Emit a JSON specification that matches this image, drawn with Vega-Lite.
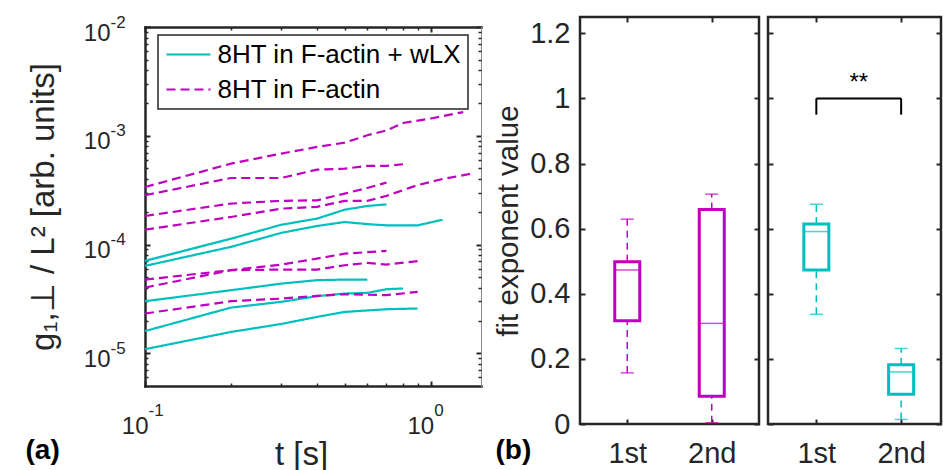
{
  "$schema": "https://vega.github.io/schema/vega-lite/v6.json",
  "background": "white",
  "padding": {"left": 25, "top": 13, "right": 0, "bottom": 0},
  "datasets": {
    "curves": [
      {"id": "C1", "sample": "8HT in F-actin + wLX", "t": 0.1, "g": 7.07e-5},
      {"id": "C1", "sample": "8HT in F-actin + wLX", "t": 0.2, "g": 1.13e-4},
      {"id": "C1", "sample": "8HT in F-actin + wLX", "t": 0.3, "g": 1.52e-4},
      {"id": "C1", "sample": "8HT in F-actin + wLX", "t": 0.4, "g": 1.73e-4},
      {"id": "C1", "sample": "8HT in F-actin + wLX", "t": 0.5, "g": 2.09e-4},
      {"id": "C1", "sample": "8HT in F-actin + wLX", "t": 0.6, "g": 2.26e-4},
      {"id": "C1", "sample": "8HT in F-actin + wLX", "t": 0.7, "g": 2.34e-4},
      {"id": "C2", "sample": "8HT in F-actin + wLX", "t": 0.1, "g": 6.36e-5},
      {"id": "C2", "sample": "8HT in F-actin + wLX", "t": 0.2, "g": 9.51e-5},
      {"id": "C2", "sample": "8HT in F-actin + wLX", "t": 0.3, "g": 1.28e-4},
      {"id": "C2", "sample": "8HT in F-actin + wLX", "t": 0.4, "g": 1.48e-4},
      {"id": "C2", "sample": "8HT in F-actin + wLX", "t": 0.5, "g": 1.61e-4},
      {"id": "C2", "sample": "8HT in F-actin + wLX", "t": 0.6, "g": 1.54e-4},
      {"id": "C2", "sample": "8HT in F-actin + wLX", "t": 0.7, "g": 1.50e-4},
      {"id": "C2", "sample": "8HT in F-actin + wLX", "t": 0.9, "g": 1.50e-4},
      {"id": "C2", "sample": "8HT in F-actin + wLX", "t": 1.1, "g": 1.69e-4},
      {"id": "C3", "sample": "8HT in F-actin + wLX", "t": 0.1, "g": 3.01e-5},
      {"id": "C3", "sample": "8HT in F-actin + wLX", "t": 0.2, "g": 3.80e-5},
      {"id": "C3", "sample": "8HT in F-actin + wLX", "t": 0.3, "g": 4.37e-5},
      {"id": "C3", "sample": "8HT in F-actin + wLX", "t": 0.4, "g": 4.70e-5},
      {"id": "C3", "sample": "8HT in F-actin + wLX", "t": 0.5, "g": 4.76e-5},
      {"id": "C3", "sample": "8HT in F-actin + wLX", "t": 0.6, "g": 4.76e-5},
      {"id": "C4", "sample": "8HT in F-actin + wLX", "t": 0.1, "g": 1.60e-5},
      {"id": "C4", "sample": "8HT in F-actin + wLX", "t": 0.2, "g": 2.63e-5},
      {"id": "C4", "sample": "8HT in F-actin + wLX", "t": 0.3, "g": 2.97e-5},
      {"id": "C4", "sample": "8HT in F-actin + wLX", "t": 0.4, "g": 3.35e-5},
      {"id": "C4", "sample": "8HT in F-actin + wLX", "t": 0.5, "g": 3.54e-5},
      {"id": "C4", "sample": "8HT in F-actin + wLX", "t": 0.6, "g": 3.59e-5},
      {"id": "C4", "sample": "8HT in F-actin + wLX", "t": 0.7, "g": 3.88e-5},
      {"id": "C4", "sample": "8HT in F-actin + wLX", "t": 0.8, "g": 3.94e-5},
      {"id": "C5", "sample": "8HT in F-actin + wLX", "t": 0.1, "g": 1.09e-5},
      {"id": "C5", "sample": "8HT in F-actin + wLX", "t": 0.2, "g": 1.57e-5},
      {"id": "C5", "sample": "8HT in F-actin + wLX", "t": 0.3, "g": 1.86e-5},
      {"id": "C5", "sample": "8HT in F-actin + wLX", "t": 0.4, "g": 2.16e-5},
      {"id": "C5", "sample": "8HT in F-actin + wLX", "t": 0.5, "g": 2.40e-5},
      {"id": "C5", "sample": "8HT in F-actin + wLX", "t": 0.7, "g": 2.54e-5},
      {"id": "C5", "sample": "8HT in F-actin + wLX", "t": 0.9, "g": 2.58e-5},
      {"id": "D1", "sample": "8HT in F-actin", "t": 0.1, "g": 3.38e-4},
      {"id": "D1", "sample": "8HT in F-actin", "t": 0.2, "g": 5.54e-4},
      {"id": "D1", "sample": "8HT in F-actin", "t": 0.3, "g": 6.85e-4},
      {"id": "D1", "sample": "8HT in F-actin", "t": 0.4, "g": 7.89e-4},
      {"id": "D1", "sample": "8HT in F-actin", "t": 0.5, "g": 8.64e-4},
      {"id": "D1", "sample": "8HT in F-actin", "t": 0.6, "g": 1.01e-3},
      {"id": "D1", "sample": "8HT in F-actin", "t": 0.7, "g": 1.12e-3},
      {"id": "D1", "sample": "8HT in F-actin", "t": 0.8, "g": 1.31e-3},
      {"id": "D1", "sample": "8HT in F-actin", "t": 1.0, "g": 1.44e-3},
      {"id": "D1", "sample": "8HT in F-actin", "t": 1.3, "g": 1.65e-3},
      {"id": "D2", "sample": "8HT in F-actin", "t": 0.1, "g": 2.84e-4},
      {"id": "D2", "sample": "8HT in F-actin", "t": 0.2, "g": 4.09e-4},
      {"id": "D2", "sample": "8HT in F-actin", "t": 0.3, "g": 4.09e-4},
      {"id": "D2", "sample": "8HT in F-actin", "t": 0.4, "g": 4.88e-4},
      {"id": "D2", "sample": "8HT in F-actin", "t": 0.5, "g": 4.98e-4},
      {"id": "D2", "sample": "8HT in F-actin", "t": 0.6, "g": 5.28e-4},
      {"id": "D2", "sample": "8HT in F-actin", "t": 0.7, "g": 5.28e-4},
      {"id": "D2", "sample": "8HT in F-actin", "t": 0.8, "g": 5.47e-4},
      {"id": "D3", "sample": "8HT in F-actin", "t": 0.1, "g": 1.83e-4},
      {"id": "D3", "sample": "8HT in F-actin", "t": 0.2, "g": 2.38e-4},
      {"id": "D3", "sample": "8HT in F-actin", "t": 0.3, "g": 2.52e-4},
      {"id": "D3", "sample": "8HT in F-actin", "t": 0.4, "g": 2.55e-4},
      {"id": "D3", "sample": "8HT in F-actin", "t": 0.5, "g": 2.94e-4},
      {"id": "D3", "sample": "8HT in F-actin", "t": 0.6, "g": 3.31e-4},
      {"id": "D3", "sample": "8HT in F-actin", "t": 0.7, "g": 3.71e-4},
      {"id": "D4", "sample": "8HT in F-actin", "t": 0.1, "g": 1.37e-4},
      {"id": "D4", "sample": "8HT in F-actin", "t": 0.2, "g": 1.79e-4},
      {"id": "D4", "sample": "8HT in F-actin", "t": 0.3, "g": 2.14e-4},
      {"id": "D4", "sample": "8HT in F-actin", "t": 0.4, "g": 2.22e-4},
      {"id": "D4", "sample": "8HT in F-actin", "t": 0.5, "g": 2.52e-4},
      {"id": "D4", "sample": "8HT in F-actin", "t": 0.6, "g": 2.52e-4},
      {"id": "D4", "sample": "8HT in F-actin", "t": 0.7, "g": 2.80e-4},
      {"id": "D4", "sample": "8HT in F-actin", "t": 0.9, "g": 3.52e-4},
      {"id": "D4", "sample": "8HT in F-actin", "t": 1.1, "g": 4.0e-4},
      {"id": "D4", "sample": "8HT in F-actin", "t": 1.4, "g": 4.5e-4},
      {"id": "D5", "sample": "8HT in F-actin", "t": 0.1, "g": 4.76e-5},
      {"id": "D5", "sample": "8HT in F-actin", "t": 0.2, "g": 5.81e-5},
      {"id": "D5", "sample": "8HT in F-actin", "t": 0.3, "g": 6.54e-5},
      {"id": "D5", "sample": "8HT in F-actin", "t": 0.4, "g": 7.42e-5},
      {"id": "D5", "sample": "8HT in F-actin", "t": 0.5, "g": 8.24e-5},
      {"id": "D5", "sample": "8HT in F-actin", "t": 0.7, "g": 8.73e-5},
      {"id": "D6", "sample": "8HT in F-actin", "t": 0.1, "g": 4.02e-5},
      {"id": "D6", "sample": "8HT in F-actin", "t": 0.2, "g": 5.81e-5},
      {"id": "D6", "sample": "8HT in F-actin", "t": 0.3, "g": 5.88e-5},
      {"id": "D6", "sample": "8HT in F-actin", "t": 0.4, "g": 5.88e-5},
      {"id": "D6", "sample": "8HT in F-actin", "t": 0.5, "g": 6.45e-5},
      {"id": "D6", "sample": "8HT in F-actin", "t": 0.6, "g": 6.77e-5},
      {"id": "D6", "sample": "8HT in F-actin", "t": 0.7, "g": 6.54e-5},
      {"id": "D6", "sample": "8HT in F-actin", "t": 0.9, "g": 7.03e-5},
      {"id": "D7", "sample": "8HT in F-actin", "t": 0.1, "g": 2.32e-5},
      {"id": "D7", "sample": "8HT in F-actin", "t": 0.2, "g": 3.01e-5},
      {"id": "D7", "sample": "8HT in F-actin", "t": 0.3, "g": 3.18e-5},
      {"id": "D7", "sample": "8HT in F-actin", "t": 0.4, "g": 3.37e-5},
      {"id": "D7", "sample": "8HT in F-actin", "t": 0.5, "g": 3.49e-5},
      {"id": "D7", "sample": "8HT in F-actin", "t": 0.7, "g": 3.42e-5},
      {"id": "D7", "sample": "8HT in F-actin", "t": 0.9, "g": 3.67e-5}
    ],
    "actin": [
      {"fit": "1st", "pos": 1, "lo": 0.157, "q1": 0.317, "med": 0.473, "q3": 0.498, "hi": 0.629},
      {"fit": "2nd", "pos": 2, "lo": 0.004, "q1": 0.085, "med": 0.309, "q3": 0.659, "hi": 0.706}
    ],
    "actin_wlx": [
      {"fit": "1st", "pos": 1, "lo": 0.337, "q1": 0.473, "med": 0.591, "q3": 0.614, "hi": 0.675},
      {"fit": "2nd", "pos": 2, "lo": 0.014, "q1": 0.091, "med": 0.160, "q3": 0.182, "hi": 0.232}
    ],
    "bracket": [
      {"x": 1, "x2": 2, "y": 1.0, "y2": 1.0},
      {"x": 1, "x2": 1, "y": 0.95, "y2": 1.0},
      {"x": 2, "x2": 2, "y": 0.95, "y2": 1.0}
    ],
    "stars": [
      {"x": 1.5, "y": 1.025, "label": "**"}
    ]
  },
  "bounds": "flush",
  "spacing": 9,
  "hconcat": [
    {
      "width": 336,
      "height": 369,
      "data": {"name": "curves"},
      "resolve": {"axis": {"x": "independent", "y": "independent"}},
      "layer": [
        {
          "mark": {"type": "line", "strokeWidth": 2.2},
          "encoding": {
            "x": {
              "field": "t", "type": "quantitative",
              "scale": {"type": "log", "domain": [0.1, 1.5], "nice": false},
              "axis": {
                "orient": "bottom", "values": [0.1, 1], "labelExpr": "'10'",
                "ticks": false, "tickSize": 0, "domain": false,
                "labelFontSize": 24, "labelAlign": "right", "labelOffset": 3,
                "labelBaseline": "alphabetic", "labelPadding": 47,
                "labelFlush": false, "labelOverlap": false,
                "title": "t [s]", "titleFontSize": 33, "titleX": 156, "titleY": 78,
                "titleAlign": "center", "titleBaseline": "alphabetic", "titleAngle": 0
              }
            },
            "y": {
              "field": "g", "type": "quantitative",
              "scale": {"type": "log", "domain": [5e-6, 0.01], "nice": false, "range": [369, 10]},
              "axis": {
                "orient": "left", "values": [1e-5, 1e-4, 1e-3, 1e-2], "labelExpr": "'10'",
                "ticks": false, "tickSize": 0, "domain": false,
                "labelFontSize": 24, "labelAlign": "right", "labelBaseline": "middle",
                "labelPadding": 35, "labelOffset": 6,
                "labelFlush": false, "labelOverlap": false,
                "title": "g₁,⊥ / L² [arb. units]", "titleFontSize": 33,
                "titleX": -92, "titleY": 189.5, "titleAngle": -90,
                "titleAlign": "center", "titleBaseline": "alphabetic"
              }
            },
            "color": {
              "field": "sample", "type": "nominal",
              "scale": {"domain": ["8HT in F-actin + wLX", "8HT in F-actin"], "range": ["#00BFBF", "#BF00BF"]},
              "legend": {
                "orient": "none", "legendX": 13, "legendY": 18, "title": null,
                "symbolType": "M-1,0H3", "symbolSize": 484, "symbolStrokeWidth": 2.2,
                "labelFontSize": 26, "labelFont": "Liberation Sans", "labelColor": "black",
                "labelOffset": 27, "labelLimit": 400, "rowPadding": 9, "padding": 6.5,
                "fillColor": "white", "strokeColor": "#262626"
              }
            },
            "strokeDash": {
              "field": "sample", "type": "nominal",
              "scale": {"domain": ["8HT in F-actin + wLX", "8HT in F-actin"], "range": [[1, 0], [9, 5]]},
              "legend": {
                "orient": "none", "legendX": 13, "legendY": 18, "title": null,
                "symbolType": "M-1,0H3", "symbolSize": 484, "symbolStrokeWidth": 2.2,
                "labelFontSize": 26, "labelFont": "Liberation Sans", "labelColor": "black",
                "labelOffset": 27, "labelLimit": 400, "rowPadding": 9, "padding": 6.5,
                "fillColor": "white", "strokeColor": "#262626"
              }
            },
            "detail": {"field": "id"},
            "order": {"field": "t", "type": "quantitative"}
          }
        },
        {
          "mark": {"type": "point", "opacity": 0},
          "encoding": {
            "x": {
              "field": "t", "type": "quantitative",
              "scale": {"type": "log", "domain": [0.1, 1.5], "nice": false},
              "axis": {
                "orient": "bottom", "values": [0.1, 1],
                "labelExpr": "round(log(datum.value) / LN10)",
                "ticks": false, "tickSize": 0, "domain": false,
                "labelFontSize": 17, "labelAlign": "left", "labelOffset": 3,
                "labelBaseline": "alphabetic", "labelPadding": 29,
                "labelFlush": false, "labelOverlap": false,
                "title": "(a)", "titleFontSize": 28, "titleFontWeight": "bold", "titleColor": "black",
                "titleX": -120, "titleY": 72, "titleAlign": "left", "titleBaseline": "alphabetic", "titleAngle": 0
              }
            },
            "y": {
              "field": "g", "type": "quantitative",
              "scale": {"type": "log", "domain": [5e-6, 0.01], "nice": false, "range": [369, 10]},
              "axis": {
                "orient": "left", "values": [1e-5, 1e-4, 1e-3, 1e-2],
                "labelExpr": "round(log(datum.value) / LN10)",
                "ticks": false, "tickSize": 0, "domain": false,
                "labelFontSize": 17, "labelAlign": "left", "labelBaseline": "middle",
                "labelPadding": 35, "labelOffset": -5,
                "labelFlush": false, "labelOverlap": false, "title": null
              }
            }
          }
        },
        {
          "mark": {"type": "point", "opacity": 0},
          "encoding": {
            "x": {
              "field": "t", "type": "quantitative",
              "scale": {"type": "log", "domain": [0.1, 1.5], "nice": false},
              "axis": {"orient": "bottom", "values": [0.1, 1], "labels": false, "tickSize": -5, "tickWidth": 2, "domain": true, "title": null}
            },
            "y": {
              "field": "g", "type": "quantitative",
              "scale": {"type": "log", "domain": [5e-6, 0.01], "nice": false, "range": [369, 10]},
              "axis": {"orient": "left", "values": [1e-5, 1e-4, 1e-3, 1e-2], "labels": false, "tickSize": -5, "tickWidth": 2, "domain": true, "title": null}
            }
          }
        },
        {
          "mark": {"type": "point", "opacity": 0},
          "encoding": {
            "x": {
              "field": "t", "type": "quantitative",
              "scale": {"type": "log", "domain": [0.1, 1.5], "nice": false},
              "axis": {"orient": "bottom", "values": [0.2, 0.3, 0.4, 0.5, 0.6, 0.7, 0.8, 0.9], "labels": false, "tickSize": -3, "tickWidth": 1.5, "domain": false, "title": null}
            },
            "y": {
              "field": "g", "type": "quantitative",
              "scale": {"type": "log", "domain": [5e-6, 0.01], "nice": false, "range": [369, 10]},
              "axis": {"orient": "left", "values": [6e-6, 7e-6, 8e-6, 9e-6, 2e-5, 3e-5, 4e-5, 5e-5, 6e-5, 7e-5, 8e-5, 9e-5, 2e-4, 3e-4, 4e-4, 5e-4, 6e-4, 7e-4, 8e-4, 9e-4, 2e-3, 3e-3, 4e-3, 5e-3, 6e-3, 7e-3, 8e-3, 9e-3], "labels": false, "tickSize": -3, "tickWidth": 1.5, "domain": false, "title": null}
            }
          }
        },
        {
          "mark": {"type": "point", "opacity": 0},
          "encoding": {
            "x": {
              "field": "t", "type": "quantitative",
              "scale": {"type": "log", "domain": [0.1, 1.5], "nice": false},
              "axis": {"orient": "top", "offset": -10, "values": [0.1, 1], "labels": false, "tickSize": -5, "tickWidth": 2, "domain": true, "title": null}
            },
            "y": {
              "field": "g", "type": "quantitative",
              "scale": {"type": "log", "domain": [5e-6, 0.01], "nice": false, "range": [369, 10]},
              "axis": {"orient": "right", "values": [1e-5, 1e-4, 1e-3, 1e-2], "labels": false, "tickSize": -5, "tickWidth": 2, "domain": true, "domainColor": "#8a8a8a", "domainWidth": 1, "title": null}
            }
          }
        },
        {
          "mark": {"type": "point", "opacity": 0},
          "encoding": {
            "x": {
              "field": "t", "type": "quantitative",
              "scale": {"type": "log", "domain": [0.1, 1.5], "nice": false},
              "axis": {"orient": "top", "offset": -10, "values": [0.2, 0.3, 0.4, 0.5, 0.6, 0.7, 0.8, 0.9], "labels": false, "tickSize": -3, "tickWidth": 1.5, "domain": false, "title": null}
            },
            "y": {
              "field": "g", "type": "quantitative",
              "scale": {"type": "log", "domain": [5e-6, 0.01], "nice": false, "range": [369, 10]},
              "axis": {"orient": "right", "values": [6e-6, 7e-6, 8e-6, 9e-6, 2e-5, 3e-5, 4e-5, 5e-5, 6e-5, 7e-5, 8e-5, 9e-5, 2e-4, 3e-4, 4e-4, 5e-4, 6e-4, 7e-4, 8e-4, 9e-4, 2e-3, 3e-3, 4e-3, 5e-3, 6e-3, 7e-3, 8e-3, 9e-3], "labels": false, "tickSize": -3, "tickWidth": 1.5, "domain": false, "title": null}
            }
          }
        }
      ]
    },
    {
      "width": 81,
      "height": 10,
      "data": {"values": [{}]},
      "mark": {"type": "point", "opacity": 0}
    },
    {
      "width": 179,
      "height": 407,
      "view": {"stroke": "#262626", "strokeWidth": 2.5},
      "data": {"name": "actin"},
      "resolve": {"axis": {"x": "independent", "y": "independent"}},
      "layer": [
        {
          "mark": {"type": "rule", "color": "#BF00BF", "strokeWidth": 1.5, "strokeDash": [7, 5]},
          "encoding": {
            "x": {"field": "pos", "type": "quantitative", "scale": {"domain": [0.5, 2.5], "nice": false, "zero": false}, "axis": null},
            "y": {"field": "q3", "type": "quantitative", "scale": {"domain": [0, 1.25], "nice": false}, "axis": null},
            "y2": {"field": "hi"}
          }
        },
        {
          "mark": {"type": "rule", "color": "#BF00BF", "strokeWidth": 1.5, "strokeDash": [7, 5]},
          "encoding": {
            "x": {"field": "pos", "type": "quantitative", "axis": null},
            "y": {"field": "lo", "type": "quantitative", "axis": null},
            "y2": {"field": "q1"}
          }
        },
        {
          "mark": {"type": "tick", "orient": "horizontal", "size": 13, "thickness": 1.5, "color": "#BF00BF"},
          "encoding": {
            "x": {"field": "pos", "type": "quantitative", "axis": null},
            "y": {"field": "hi", "type": "quantitative", "axis": null}
          }
        },
        {
          "mark": {"type": "tick", "orient": "horizontal", "size": 13, "thickness": 1.5, "color": "#BF00BF"},
          "encoding": {
            "x": {"field": "pos", "type": "quantitative", "axis": null},
            "y": {"field": "lo", "type": "quantitative", "axis": null}
          }
        },
        {
          "mark": {"type": "bar", "width": 25, "fill": "white", "stroke": "#BF00BF", "strokeWidth": 3},
          "encoding": {
            "x": {
              "field": "pos", "type": "quantitative",
              "axis": {
                "orient": "bottom", "values": [1, 2], "labelExpr": "datum.value == 1 ? '1st' : '2nd'",
                "ticks": false, "tickSize": 0, "domain": false,
                "labelFontSize": 29, "labelBaseline": "alphabetic", "labelPadding": 38,
                "labelFlush": false, "labelOverlap": false, "title": null
              }
            },
            "y": {
              "field": "q1", "type": "quantitative",
              "axis": {
                "orient": "left", "values": [0, 0.2, 0.4, 0.6, 0.8, 1, 1.2], "format": "~g",
                "ticks": false, "tickSize": 0, "domain": false,
                "labelFontSize": 29, "labelAlign": "right", "labelBaseline": "middle", "labelPadding": 10,
                "labelFlush": false, "labelOverlap": false,
                "title": "fit exponent value", "titleFontSize": 29.5,
                "titleX": -63, "titleY": 203.5, "titleAngle": -90,
                "titleAlign": "center", "titleBaseline": "alphabetic"
              }
            },
            "y2": {"field": "q3"}
          }
        },
        {
          "mark": {"type": "tick", "orient": "horizontal", "size": 26, "thickness": 1.5, "color": "#BF00BF"},
          "encoding": {
            "x": {"field": "pos", "type": "quantitative", "axis": null},
            "y": {"field": "med", "type": "quantitative", "axis": null}
          }
        },
        {
          "mark": {"type": "point", "opacity": 0},
          "encoding": {
            "x": {
              "field": "pos", "type": "quantitative",
              "axis": {
                "orient": "bottom", "values": [1, 2], "labels": false, "tickSize": -5, "tickWidth": 2, "domain": false,
                "title": "(b)", "titleFontSize": 28, "titleFontWeight": "bold", "titleColor": "black",
                "titleX": -85, "titleY": 34, "titleAlign": "left", "titleBaseline": "alphabetic", "titleAngle": 0
              }
            },
            "y": {
              "field": "med", "type": "quantitative",
              "axis": {"orient": "left", "values": [0, 0.2, 0.4, 0.6, 0.8, 1, 1.2], "labels": false, "tickSize": -5, "tickWidth": 2, "domain": false, "title": null}
            }
          }
        },
        {
          "mark": {"type": "point", "opacity": 0},
          "encoding": {
            "x": {
              "field": "pos", "type": "quantitative",
              "axis": {"orient": "top", "values": [1, 2], "labels": false, "tickSize": -5, "tickWidth": 2, "domain": false, "title": null}
            },
            "y": {
              "field": "med", "type": "quantitative",
              "axis": {"orient": "right", "values": [0, 0.2, 0.4, 0.6, 0.8, 1, 1.2], "labels": false, "tickSize": -5, "tickWidth": 2, "domain": false, "title": null}
            }
          }
        }
      ]
    },
    {
      "width": 173,
      "height": 407,
      "view": {"stroke": "#262626", "strokeWidth": 2.5},
      "data": {"name": "actin_wlx"},
      "resolve": {"axis": {"x": "independent", "y": "independent"}},
      "layer": [
        {
          "mark": {"type": "rule", "color": "#00BFBF", "strokeWidth": 1.5, "strokeDash": [7, 5]},
          "encoding": {
            "x": {"field": "pos", "type": "quantitative", "scale": {"domain": [0.489, 2.411], "nice": false, "zero": false}, "axis": null},
            "y": {"field": "q3", "type": "quantitative", "scale": {"domain": [0, 1.25], "nice": false}, "axis": null},
            "y2": {"field": "hi"}
          }
        },
        {
          "mark": {"type": "rule", "color": "#00BFBF", "strokeWidth": 1.5, "strokeDash": [7, 5]},
          "encoding": {
            "x": {"field": "pos", "type": "quantitative", "axis": null},
            "y": {"field": "lo", "type": "quantitative", "axis": null},
            "y2": {"field": "q1"}
          }
        },
        {
          "mark": {"type": "tick", "orient": "horizontal", "size": 13, "thickness": 1.5, "color": "#00BFBF"},
          "encoding": {
            "x": {"field": "pos", "type": "quantitative", "axis": null},
            "y": {"field": "hi", "type": "quantitative", "axis": null}
          }
        },
        {
          "mark": {"type": "tick", "orient": "horizontal", "size": 13, "thickness": 1.5, "color": "#00BFBF"},
          "encoding": {
            "x": {"field": "pos", "type": "quantitative", "axis": null},
            "y": {"field": "lo", "type": "quantitative", "axis": null}
          }
        },
        {
          "mark": {"type": "bar", "width": 25, "fill": "white", "stroke": "#00BFBF", "strokeWidth": 3},
          "encoding": {
            "x": {
              "field": "pos", "type": "quantitative",
              "axis": {
                "orient": "bottom", "values": [1, 2], "labelExpr": "datum.value == 1 ? '1st' : '2nd'",
                "ticks": false, "tickSize": 0, "domain": false,
                "labelFontSize": 29, "labelBaseline": "alphabetic", "labelPadding": 38,
                "labelFlush": false, "labelOverlap": false, "title": null
              }
            },
            "y": {"field": "q1", "type": "quantitative", "axis": null},
            "y2": {"field": "q3"}
          }
        },
        {
          "mark": {"type": "tick", "orient": "horizontal", "size": 26, "thickness": 1.5, "color": "#00BFBF"},
          "encoding": {
            "x": {"field": "pos", "type": "quantitative", "axis": null},
            "y": {"field": "med", "type": "quantitative", "axis": null}
          }
        },
        {
          "data": {"name": "bracket"},
          "mark": {"type": "rule", "color": "black", "strokeWidth": 2},
          "encoding": {
            "x": {"field": "x", "type": "quantitative", "axis": null},
            "x2": {"field": "x2"},
            "y": {"field": "y", "type": "quantitative", "axis": null},
            "y2": {"field": "y2"}
          }
        },
        {
          "data": {"name": "stars"},
          "mark": {"type": "text", "font": "Liberation Sans", "fontSize": 24, "align": "center", "baseline": "alphabetic", "color": "black"},
          "encoding": {
            "x": {"field": "x", "type": "quantitative", "axis": null},
            "y": {"field": "y", "type": "quantitative", "axis": null},
            "text": {"field": "label"}
          }
        },
        {
          "mark": {"type": "point", "opacity": 0},
          "encoding": {
            "x": {
              "field": "pos", "type": "quantitative",
              "axis": {"orient": "bottom", "values": [1, 2], "labels": false, "tickSize": -5, "tickWidth": 2, "domain": false, "title": null}
            },
            "y": {
              "field": "med", "type": "quantitative",
              "axis": {"orient": "left", "values": [0, 0.2, 0.4, 0.6, 0.8, 1, 1.2], "labels": false, "tickSize": -5, "tickWidth": 2, "domain": false, "title": null}
            }
          }
        },
        {
          "mark": {"type": "point", "opacity": 0},
          "encoding": {
            "x": {
              "field": "pos", "type": "quantitative",
              "axis": {"orient": "top", "values": [1, 2], "labels": false, "tickSize": -5, "tickWidth": 2, "domain": false, "title": null}
            },
            "y": {
              "field": "med", "type": "quantitative",
              "axis": {"orient": "right", "values": [0, 0.2, 0.4, 0.6, 0.8, 1, 1.2], "labels": false, "tickSize": -5, "tickWidth": 2, "domain": false, "title": null}
            }
          }
        }
      ]
    }
  ],
  "config": {
    "view": {"stroke": null},
    "font": "Liberation Sans",
    "axis": {
      "grid": false,
      "domainColor": "#262626",
      "domainWidth": 2.5,
      "domainCap": "square",
      "tickColor": "#262626",
      "labelColor": "#262626",
      "titleColor": "#262626",
      "labelFont": "Liberation Sans",
      "titleFont": "Liberation Sans",
      "titleFontWeight": "normal"
    },
    "legend": {"strokeWidth": 1.5}
  }
}
